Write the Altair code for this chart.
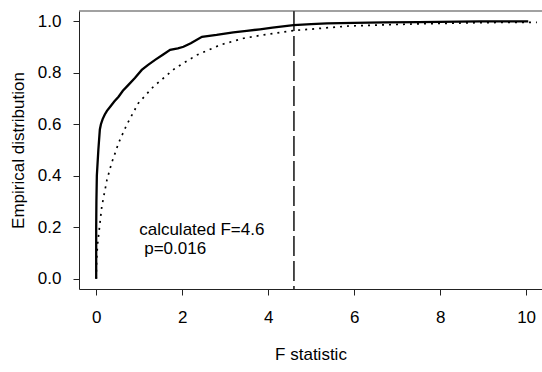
import altair as alt
import pandas as pd

# Observed (permutation) empirical distribution of F statistic
obs_f = [0.0, 0.0, 0.005, 0.015, 0.05, 0.085, 0.11, 0.15, 0.2, 0.25, 0.33, 0.42, 0.52,
         0.62, 0.75, 0.9, 1.06, 1.2, 1.37, 1.55, 1.72, 1.9, 2.03, 2.2, 2.46, 2.8,
         3.19, 3.5, 3.81, 4.1, 4.59, 5.0, 5.37, 6.0, 6.7, 7.5, 8.93, 10.05]
obs_p = [0.0, 0.2, 0.3, 0.4, 0.5, 0.58, 0.6, 0.62, 0.638, 0.652, 0.669, 0.688, 0.707,
         0.73, 0.753, 0.78, 0.811, 0.83, 0.85, 0.87, 0.889, 0.895, 0.901, 0.915, 0.94, 0.947,
         0.957, 0.963, 0.969, 0.975, 0.985, 0.989, 0.992, 0.994, 0.996, 0.997, 1.0, 1.0]

# Theoretical distribution (dotted)
th_f = [0.0, 0.01, 0.03, 0.07, 0.13, 0.25, 0.36, 0.465, 0.52, 0.71, 0.98, 1.33, 1.84,
        2.34, 2.88, 3.43, 3.81, 4.59, 5.9, 7.46, 9.0, 10.25]
th_p = [0.0, 0.07, 0.13, 0.19, 0.28, 0.384, 0.45, 0.50, 0.527, 0.598, 0.682, 0.746, 0.818,
        0.869, 0.908, 0.934, 0.945, 0.964, 0.982, 0.99, 0.995, 0.996]

calc_f = [4.6]
note1_xy = [1.0, 0.19]
note2_xy = [1.0, 0.115]
note1_text = "calculated F=4.6"
note2_text = "p=0.016"

x_ticks = [0, 2, 4, 6, 8, 10]
y_ticks = [0.0, 0.2, 0.4, 0.6, 0.8, 1.0]

FONT = "Liberation Sans"
FS = 17
INK = "#222222"

obs = pd.DataFrame({"f": obs_f, "p": obs_p, "o": range(len(obs_f))})
th = pd.DataFrame({"f": th_f, "p": th_p, "o": range(len(th_f))})
vline = pd.DataFrame({"f": calc_f})
note1 = pd.DataFrame({"f": [note1_xy[0]], "p": [note1_xy[1]], "t": [note1_text]})
note2 = pd.DataFrame({"f": [note2_xy[0]], "p": [note2_xy[1]], "t": [note2_text]})

xscale = alt.Scale(domain=[-0.4, 10.37], nice=False, zero=False)
yscale = alt.Scale(domain=[-0.04, 1.04], nice=False, zero=False)

xaxis = alt.Axis(values=x_ticks, format="d", title="F statistic", grid=False,
                 tickSize=6, labelPadding=14, titlePadding=21,
                 domainColor=INK, tickColor=INK, labelColor="black", titleColor="black",
                 labelFont=FONT, titleFont=FONT, labelFontSize=FS, titleFontSize=FS,
                 titleFontWeight="normal", labelFlush=False)
yaxis = alt.Axis(values=y_ticks, format=".1f", title="Empirical distribution", grid=False,
                 tickSize=6, labelPadding=12, titlePadding=10,
                 domainColor=INK, tickColor=INK, labelColor="black", titleColor="black",
                 labelFont=FONT, titleFont=FONT, labelFontSize=FS, titleFontSize=FS,
                 titleFontWeight="normal", labelFlush=False)

solid = alt.Chart(obs).mark_line(color="black", strokeWidth=2.3, clip=True).encode(
    x=alt.X("f:Q", scale=xscale, axis=xaxis),
    y=alt.Y("p:Q", scale=yscale, axis=yaxis),
    order="o:Q",
)

dotted = alt.Chart(th).mark_line(color="black", strokeWidth=1.7, strokeDash=[2, 5],
                                  clip=True).encode(
    x=alt.X("f:Q", scale=xscale),
    y=alt.Y("p:Q", scale=yscale),
    order="o:Q",
)

rule = alt.Chart(vline).mark_rule(color="black", strokeWidth=1.4, strokeDash=[20, 5]).encode(
    x=alt.X("f:Q", scale=xscale),
)

# top edge of the plot frame
top_edge = alt.Chart(vline).mark_rule(color="#444444", strokeWidth=1.2).encode(
    y=alt.value(0),
)

text1 = alt.Chart(note1).mark_text(align="left", baseline="middle", font=FONT,
                                   fontSize=FS, color="black").encode(
    x=alt.X("f:Q", scale=xscale),
    y=alt.Y("p:Q", scale=yscale),
    text="t:N",
)
text2 = alt.Chart(note2).mark_text(align="left", baseline="middle", font=FONT,
                                   fontSize=FS, color="black", dx=5).encode(
    x=alt.X("f:Q", scale=xscale),
    y=alt.Y("p:Q", scale=yscale),
    text="t:N",
)

chart = alt.layer(solid, dotted, rule, top_edge, text1, text2).properties(
    width=463, height=278,
    autosize=alt.AutoSizeParams(type="none"),
    padding={"left": 79, "top": 11, "right": 0, "bottom": 83},
    background="white",
).configure_view(stroke=None)

chart.save("out.html", embed_options={"renderer": "svg", "actions": False})
